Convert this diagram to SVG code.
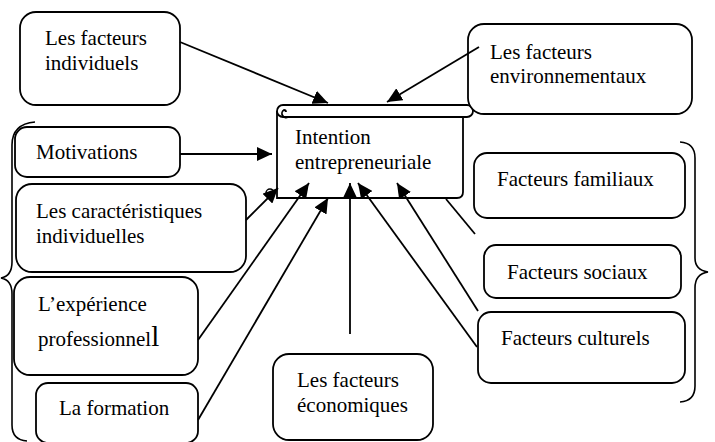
<svg xmlns="http://www.w3.org/2000/svg" width="715" height="442" viewBox="0 0 715 442">
<defs>
<style>
.box{fill:#fff;stroke:#000;stroke-width:1.8}
.t{font-family:"Liberation Serif","Times New Roman",serif;font-size:21px;fill:#000}
.c{fill:none;stroke:#000;stroke-width:1.8}
.a{fill:none;stroke:#000;stroke-width:1.8;marker-end:url(#ah)}
.br{fill:none;stroke:#000;stroke-width:1.6}
</style>
<marker id="ah" markerUnits="userSpaceOnUse" markerWidth="16" markerHeight="14" refX="15" refY="7" orient="auto">
<path d="M0,0 L15,7 L0,14 Z" fill="#000"/>
</marker>
</defs>
<rect width="715" height="442" fill="#fff"/>

<g id="braces">
<path class="br" d="M35,122 Q12,124 12,145 V262 Q12,276 1,278 Q12,280 12,294 V425 Q12,440 27,441"/>
<path class="br" d="M680,142 Q695,143 695,158 V258 Q695,270 708,272 Q695,274 695,288 V386 Q695,401 680,402"/>
</g>

<g id="intention">
<path class="box" d="M277,111 V198 H457 Q463,198 463,192 V117"/>
<path class="box" d="M283,105 H467 A6,6 0 0 1 467,117 H283 A6,6 0 0 1 283,105 Z"/>
<path class="c" d="M288,117 A4,4 0 1 1 284,110 A2,2 0 0 1 286,112" stroke-width="1.5"/>
<circle cx="270" cy="193" r="4" fill="#fff" stroke="#000" stroke-width="1.5"/>
<text class="t" x="295" y="144">Intention</text>
<text class="t" x="295" y="169">entrepreneuriale</text>
</g>

<g id="ind">
<rect class="box" x="20" y="12" width="160" height="93" rx="16"/>
<text class="t" x="45" y="45">Les facteurs</text>
<text class="t" x="45" y="70">individuels</text>
</g>

<g id="env">
<rect class="box" x="468" y="24" width="224" height="90" rx="16"/>
<text class="t" x="490" y="59">Les facteurs</text>
<text class="t" x="490" y="83">environnementaux</text>
</g>

<g id="motiv">
<rect class="box" x="15" y="127" width="165" height="50" rx="12"/>
<text class="t" x="36" y="159">Motivations</text>
</g>

<g id="carac">
<rect class="box" x="16" y="184" width="230" height="88" rx="16"/>
<text class="t" x="36" y="218">Les caractéristiques</text>
<text class="t" x="36" y="243">individuelles</text>
</g>

<g id="exp">
<rect class="box" x="14" y="277" width="184" height="98" rx="16"/>
<text class="t" x="38" y="311">L’expérience</text>
<text class="t" x="38" y="346">professionnel<tspan font-size="29">l</tspan></text>
</g>

<g id="formation">
<rect class="box" x="36" y="383" width="162" height="60" rx="12"/>
<text class="t" x="59" y="415">La formation</text>
</g>

<g id="eco">
<rect class="box" x="273" y="354" width="160" height="86" rx="16"/>
<text class="t" x="297" y="387">Les facteurs</text>
<text class="t" x="297" y="412">économiques</text>
</g>

<g id="fam">
<rect class="box" x="474" y="153" width="211" height="65" rx="13"/>
<text class="t" x="497" y="186">Facteurs familiaux</text>
</g>

<g id="soc">
<rect class="box" x="484" y="245" width="197" height="53" rx="12"/>
<text class="t" x="507" y="279">Facteurs sociaux</text>
</g>

<g id="cult">
<rect class="box" x="478" y="312" width="207" height="71" rx="13"/>
<text class="t" x="501" y="345">Facteurs culturels</text>
</g>

<g id="connectors">
<line class="a" x1="180" y1="42" x2="328" y2="103"/>
<line class="a" x1="479" y1="47" x2="387" y2="102"/>
<line class="a" x1="180" y1="154" x2="272" y2="154"/>
<line class="a" x1="246" y1="220" x2="278" y2="188"/>
<line class="a" x1="198" y1="340" x2="309" y2="183"/>
<line class="a" x1="198" y1="420" x2="328" y2="198"/>
<line class="a" x1="350" y1="334" x2="350" y2="183"/>
<line class="a" x1="477" y1="347" x2="358" y2="183"/>
<line class="a" x1="478" y1="311" x2="397" y2="183"/>
<line class="c" x1="446" y1="199" x2="475" y2="234"/>
</g>
</svg>
